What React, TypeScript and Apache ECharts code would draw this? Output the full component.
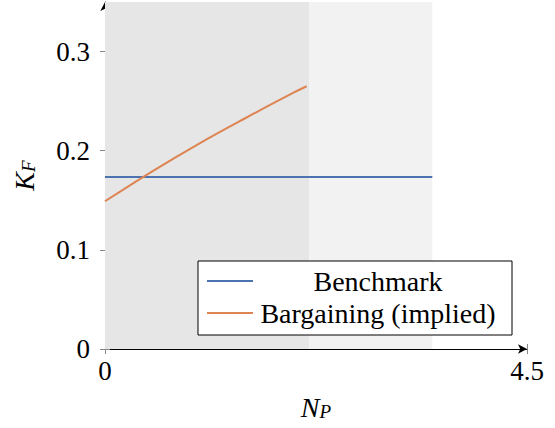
import React, { useEffect, useRef } from "react";
import * as echarts from "echarts";

const benchmarkX = [0, 3.49];
const benchmarkY = [0.1734, 0.1734];
const bargainX = [0, 0.5, 1.0, 1.5, 2.0, 2.15];
const bargainY = [0.149, 0.179, 0.207, 0.233, 0.258, 0.265];
const regionBounds = [0, 2.18, 3.49];
const yTicks = [0, 0.1, 0.2, 0.3];
const xTicks = [0, 4.5];

const FONT = "'Liberation Serif', 'Times New Roman', serif";
const FS = 27;

export default function App() {
  const ref = useRef<HTMLDivElement>(null);
  useEffect(() => {
    if (!ref.current) return;
    const chart = echarts.init(ref.current, undefined, { renderer: "svg" });
    const tickStyle = { color: "#888", width: 1 };
    const nameRich = {
      i: { fontFamily: FONT, fontStyle: "italic", fontSize: 28, lineHeight: 34, verticalAlign: "bottom", color: "#000" },
      s: { fontFamily: FONT, fontStyle: "italic", fontSize: 19, lineHeight: 16, verticalAlign: "bottom", color: "#000" },
    };
    chart.setOption({
      animation: false,
      textStyle: { fontFamily: FONT },
      grid: { left: 105, right: 28, top: 2, bottom: 79, outerBoundsMode: "none", containLabel: false },
      xAxis: [
        {
          type: "value",
          min: 0,
          max: 4.5,
          interval: 4.5,
          position: "bottom",
          name: "{i|N}{s|P}",
          nameLocation: "middle",
          nameGap: 38,
          nameTextStyle: { rich: nameRich },
          axisLine: { show: true, onZero: false, lineStyle: { color: "#000", width: 1 }, symbol: ["none", "arrow"], symbolSize: [7, 9] },
          axisTick: { show: true, length: 5, lineStyle: tickStyle, customValues: xTicks },
          axisLabel: { show: true, fontFamily: FONT, fontSize: FS, color: "#000", margin: 8, customValues: xTicks },
          splitLine: { show: false },
        },
        {
          type: "value",
          min: 0,
          max: 4.5,
          interval: 4.5,
          position: "bottom",
          gridIndex: 0,
          axisLine: { show: false },
          axisTick: { show: true, inside: true, length: 5, lineStyle: tickStyle, customValues: xTicks },
          axisLabel: { show: false },
          splitLine: { show: false },
        },
      ],
      yAxis: [
        {
          type: "value",
          min: 0,
          max: 0.35,
          interval: 0.1,
          position: "left",
          name: "{i|K}{s|F}",
          nameLocation: "middle",
          nameGap: 67,
          nameRotate: 90,
          nameTextStyle: { rich: nameRich },
          axisLine: { show: true, onZero: false, lineStyle: { color: "#000", width: 1 }, symbol: ["none", "arrow"], symbolSize: [7, 9] },
          axisTick: { show: true, length: 5, lineStyle: tickStyle, customValues: yTicks },
          axisLabel: { show: true, fontFamily: FONT, fontSize: FS, color: "#000", margin: 15, customValues: yTicks },
          splitLine: { show: false },
        },
        {
          type: "value",
          min: 0,
          max: 0.35,
          interval: 0.1,
          position: "left",
          offset: 0,
          axisLine: { show: false },
          axisTick: { show: true, inside: true, length: 5, lineStyle: tickStyle, customValues: yTicks },
          axisLabel: { show: false },
          splitLine: { show: false },
        },
      ],
      legend: {
        orient: "vertical",
        left: 198,
        top: 261,
        backgroundColor: "#fff",
        borderColor: "#000",
        borderWidth: 1,
        borderRadius: 0,
        padding: [6, 14, 8, 9],
        icon: "rect",
        itemWidth: 46,
        itemHeight: 2,
        itemGap: 4,
        formatter: (name: string) => "{c|" + name + "}",
        textStyle: {
          rich: {
            c: { fontFamily: FONT, fontSize: 28, color: "#000", width: 240, align: "center", lineHeight: 30 },
          },
        },
        data: ["Benchmark", "Bargaining (implied)"],
      },
      series: [
        {
          name: "Benchmark",
          type: "line",
          symbol: "none",
          lineStyle: { color: "#4C72B0", width: 2 },
          itemStyle: { color: "#4C72B0" },
          data: benchmarkX.map((x, i) => [x, benchmarkY[i]]),
          markArea: {
            silent: true,
            label: { show: false },
            data: [
              [{ xAxis: regionBounds[0], itemStyle: { color: "#e6e6e6" } }, { xAxis: regionBounds[1] }],
              [{ xAxis: regionBounds[1], itemStyle: { color: "#f2f2f2" } }, { xAxis: regionBounds[2] }],
            ],
          },
          z: 3,
        },
        {
          name: "Bargaining (implied)",
          type: "line",
          symbol: "none",
          smooth: 0.4,
          lineStyle: { color: "#DD8452", width: 2 },
          itemStyle: { color: "#DD8452" },
          data: bargainX.map((x, i) => [x, bargainY[i]]),
          z: 3,
        },
      ],
    });
    return () => chart.dispose();
  }, []);
  return <div ref={ref} style={{ width: 555, height: 428, position: "absolute", left: 0, top: 0 }} />;
}
